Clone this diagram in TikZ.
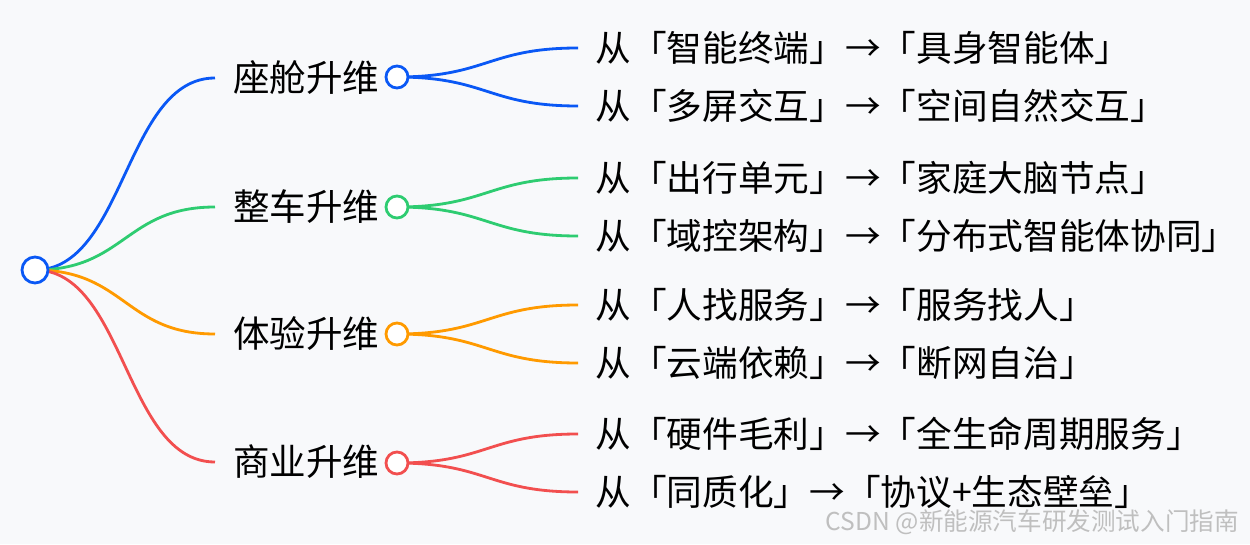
\documentclass[tikz,border=0pt]{standalone}
\usepackage{fontspec}
\setmainfont{Noto Sans CJK SC}
\usetikzlibrary{positioning}

\definecolor{mmblue}{HTML}{0A58F5}
\definecolor{mmgreen}{HTML}{2ECC71}
\definecolor{mmorange}{HTML}{FF9A00}
\definecolor{mmred}{HTML}{F24F4F}
\definecolor{paper}{HTML}{F8F9FB}

\pgfdeclarelayer{bg}
\pgfdeclarelayer{edge}
\pgfsetlayers{bg,edge,main}

\begin{document}
\begin{tikzpicture}[
  x=0.02cm,y=-0.02cm,
  font=\fontsize{20.3pt}{23pt}\selectfont,
  dot/.style={circle,draw,fill=white,line width=1.6pt,inner sep=0pt,minimum size=0.44cm},
  rootdot/.style={dot,minimum size=0.52cm},
  topic/.style={anchor=west,inner xsep=0.36cm,inner ysep=0pt,font=\fontsize{20.8pt}{23pt}\selectfont},
  leaf/.style={anchor=west,inner xsep=0.34cm,inner ysep=0pt},
  ln/.style={line width=1.6pt},
  wm/.style={anchor=east,text=black!25,font=\fontsize{14pt}{16pt}\selectfont}]

 \begin{pgfonlayer}{bg}
  \fill[paper] (0,0) rectangle (1250,544);
 \end{pgfonlayer}
 \useasboundingbox (0,0) rectangle (1250,544);

 % ---- root ----
 \node[rootdot,draw=mmblue] (root) at (35,270) {};

 % ---- 座舱升维 ----
 \node[topic] (t1) at (215,78) {座舱升维};
 \node[dot,draw=mmblue] (d1) at (397,77) {};
 \node[leaf] (l1) at (578,48) {从「智能终端」→「具身智能体」};
 \node[leaf] (l2) at (578,106) {从「多屏交互」→「空间自然交互」};

 % ---- 整车升维 ----
 \node[topic] (t2) at (215,207) {整车升维};
 \node[dot,draw=mmgreen] (d2) at (397,207) {};
 \node[leaf] (l3) at (578,178) {从「出行单元」→「家庭大脑节点」};
 \node[leaf] (l4) at (578,236) {从「域控架构」→「分布式智能体协同」};

 % ---- 体验升维 ----
 \node[topic] (t3) at (215,334) {体验升维};
 \node[dot,draw=mmorange] (d3) at (397,334) {};
 \node[leaf] (l5) at (578,305) {从「人找服务」→「服务找人」};
 \node[leaf] (l6) at (578,363) {从「云端依赖」→「断网自治」};

 % ---- 商业升维 ----
 \node[topic] (t4) at (215,462) {商业升维};
 \node[dot,draw=mmred] (d4) at (397,463) {};
 \node[leaf] (l7) at (578,434) {从「硬件毛利」→「全生命周期服务」};
 \node[leaf] (l8) at (578,492) {从「同质化」→「协议+生态壁垒」};

 % ---- links ----
 \begin{pgfonlayer}{edge}
  \draw[ln,mmblue] (root.center) .. controls +(90,0) and +(-90,0) .. (t1.west);
  \draw[ln,mmgreen] (root.center) .. controls +(90,0) and +(-90,0) .. (t2.west);
  \draw[ln,mmorange] (root.center) .. controls +(90,0) and +(-90,0) .. (t3.west);
  \draw[ln,mmred] (root.center) .. controls +(90,0) and +(-90,0) .. (t4.west);

  \draw[ln,mmblue] (d1.center) .. controls +(90,0) and +(-90,0) .. (l1.west);
  \draw[ln,mmblue] (d1.center) .. controls +(90,0) and +(-90,0) .. (l2.west);
  \draw[ln,mmgreen] (d2.center) .. controls +(90,0) and +(-90,0) .. (l3.west);
  \draw[ln,mmgreen] (d2.center) .. controls +(90,0) and +(-90,0) .. (l4.west);
  \draw[ln,mmorange] (d3.center) .. controls +(90,0) and +(-90,0) .. (l5.west);
  \draw[ln,mmorange] (d3.center) .. controls +(90,0) and +(-90,0) .. (l6.west);
  \draw[ln,mmred] (d4.center) .. controls +(90,0) and +(-90,0) .. (l7.west);
  \draw[ln,mmred] (d4.center) .. controls +(90,0) and +(-90,0) .. (l8.west);
 \end{pgfonlayer}

 % ---- watermark ----
 \node[wm] (mark) at (1245,522) {CSDN @新能源汽车研发测试入门指南};
\end{tikzpicture}
\end{document}
